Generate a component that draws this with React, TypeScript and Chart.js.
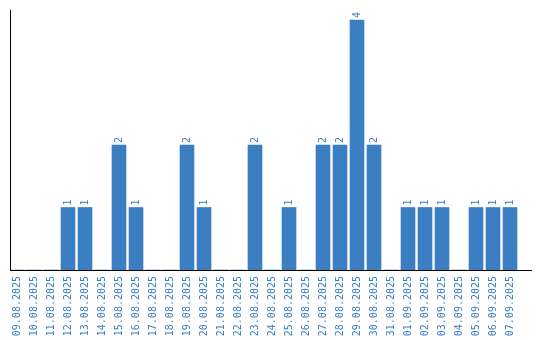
import React, { useEffect, useRef } from "react";
import { Chart, registerables } from "chart.js";

Chart.register(...registerables);

const dates: string[] = [
  "09.08.2025", "10.08.2025", "11.08.2025", "12.08.2025", "13.08.2025",
  "14.08.2025", "15.08.2025", "16.08.2025", "17.08.2025", "18.08.2025",
  "19.08.2025", "20.08.2025", "21.08.2025", "22.08.2025", "23.08.2025",
  "24.08.2025", "25.08.2025", "26.08.2025", "27.08.2025", "28.08.2025",
  "29.08.2025", "30.08.2025", "31.08.2025", "01.09.2025", "02.09.2025",
  "03.09.2025", "04.09.2025", "05.09.2025", "06.09.2025", "07.09.2025",
];

const counts: number[] = [
  0, 0, 0, 1, 1,
  0, 2, 1, 0, 0,
  2, 1, 0, 0, 2,
  0, 1, 0, 2, 2,
  4, 2, 0, 1, 1,
  1, 0, 1, 1, 1,
];

const BAR_COLOR = "#3b7ec2";
const TEXT_COLOR = "#3a7dc0";
const FONT_FAMILY = "'DejaVu Sans Mono', monospace";

const valueLabels = {
  id: "valueLabels",
  afterDatasetsDraw(chart: any) {
    const ctx = chart.ctx;
    const meta = chart.getDatasetMeta(0);
    ctx.save();
    ctx.fillStyle = TEXT_COLOR;
    ctx.font = `10px ${FONT_FAMILY}`;
    ctx.textAlign = "left";
    ctx.textBaseline = "middle";
    meta.data.forEach((bar: any, i: number) => {
      const v = counts[i];
      if (!v) return;
      ctx.save();
      ctx.translate(bar.x + 0.5, bar.y - 2);
      ctx.rotate(-Math.PI / 2);
      ctx.fillText(String(v), 0, 0);
      ctx.restore();
    });
    ctx.restore();
  },
};

export default function App() {
  const ref = useRef<HTMLCanvasElement | null>(null);

  useEffect(() => {
    if (!ref.current) return;
    const chart = new Chart(ref.current, {
      type: "bar",
      data: {
        datasets: [
          {
            data: counts.map((v, i) => ({ x: i, y: v })),
            backgroundColor: BAR_COLOR,
            borderWidth: 0,
            barThickness: 14,
          },
        ],
      },
      options: {
        animation: false,
        responsive: false,
        maintainAspectRatio: false,
        layout: { padding: { top: 10, left: 10, right: 9, bottom: 0 } },
        plugins: {
          legend: { display: false },
          tooltip: { enabled: false },
        },
        scales: {
          x: {
            type: "linear",
            min: -0.4118,
            max: 30.235,
            offset: false,
            grid: { display: false, drawTicks: false },
            border: { display: true, color: "#000", width: 1 },
            afterBuildTicks: (scale: any) => {
              scale.ticks = dates.map((_, i) => ({ value: i }));
            },
            afterFit: (scale: any) => {
              scale.height = 70;
              scale.paddingLeft = 0;
              scale.paddingRight = 0;
            },
            ticks: {
              autoSkip: false,
              minRotation: 90,
              maxRotation: 90,
              padding: 6,
              color: TEXT_COLOR,
              font: { family: FONT_FAMILY, size: 10 },
              callback: (v: any) => dates[Number(v)] ?? "",
            },
          },
          y: {
            min: 0,
            max: 4.16,
            grid: { display: false, drawTicks: false },
            border: { display: true, color: "#000", width: 1 },
            ticks: { display: false },
            afterFit: (scale: any) => {
              scale.width = 0;
            },
          },
        },
      },
      plugins: [valueLabels],
    } as any);
    return () => chart.destroy();
  }, []);

  return (
    <div style={{ position: "absolute", left: 0, top: 0, width: 540, height: 340 }}>
      <canvas ref={ref} width={540} height={340} style={{ display: "block" }} />
    </div>
  );
}
